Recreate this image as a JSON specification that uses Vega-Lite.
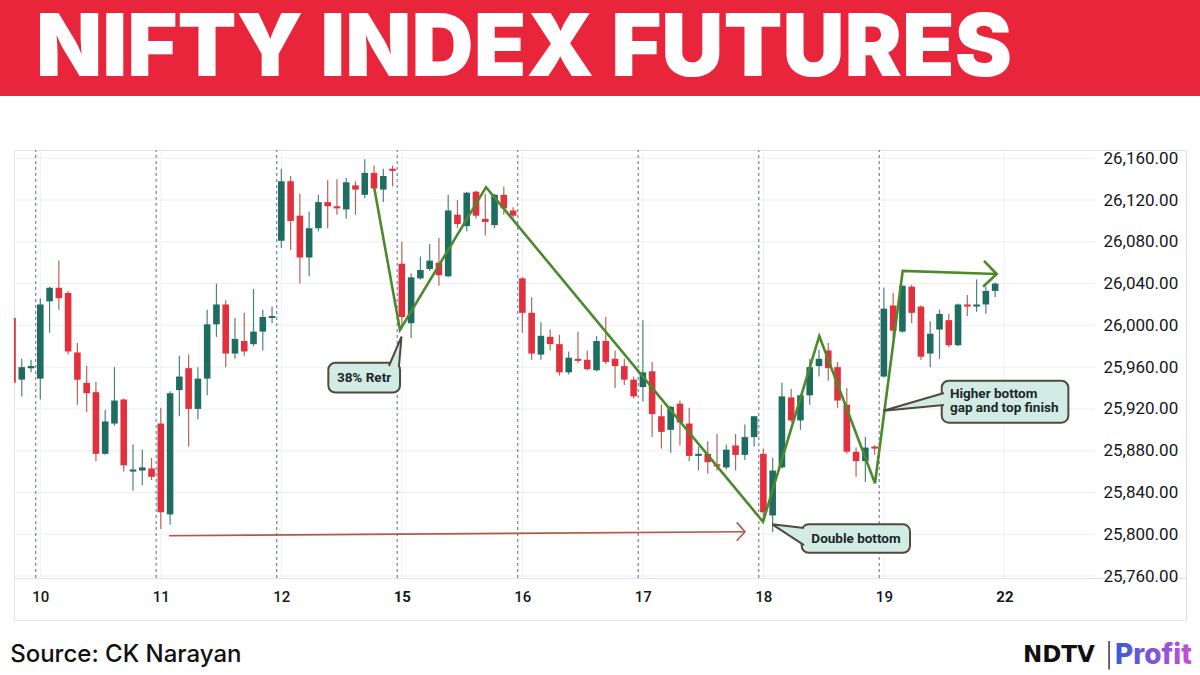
{
  "$schema": "https://vega.github.io/schema/vega-lite/v6.json",
  "background": "white",
  "padding": 0,
  "spacing": 54,
  "center": true,
  "bounds": "flush",
  "datasets": {
    "candles": [
      {"i":0,"o":26007,"h":26010,"l":25942,"c":25945},
      {"i":1,"o":25948,"h":25968,"l":25932,"c":25960},
      {"i":2,"o":25959,"h":25967,"l":25955,"c":25961},
      {"i":3,"o":25949,"h":26026,"l":25929,"c":26020},
      {"i":4,"o":26023,"h":26037,"l":25993,"c":26036},
      {"i":5,"o":26036,"h":26062,"l":26015,"c":26026},
      {"i":6,"o":26031,"h":26033,"l":25972,"c":25975},
      {"i":7,"o":25974,"h":25983,"l":25924,"c":25948},
      {"i":8,"o":25945,"h":25961,"l":25917,"c":25935},
      {"i":9,"o":25936,"h":25946,"l":25870,"c":25877},
      {"i":10,"o":25877,"h":25919,"l":25876,"c":25908},
      {"i":11,"o":25906,"h":25960,"l":25904,"c":25928},
      {"i":12,"o":25929,"h":25930,"l":25860,"c":25866},
      {"i":13,"o":25860,"h":25886,"l":25842,"c":25862},
      {"i":14,"o":25861,"h":25881,"l":25847,"c":25864},
      {"i":15,"o":25863,"h":25873,"l":25852,"c":25855},
      {"i":16,"o":25906,"h":25921,"l":25805,"c":25821},
      {"i":17,"o":25819,"h":25937,"l":25809,"c":25935},
      {"i":18,"o":25938,"h":25971,"l":25913,"c":25951},
      {"i":19,"o":25959,"h":25972,"l":25884,"c":25920},
      {"i":20,"o":25920,"h":25960,"l":25910,"c":25949},
      {"i":21,"o":25949,"h":26015,"l":25933,"c":26001},
      {"i":22,"o":26001,"h":26040,"l":25989,"c":26020},
      {"i":23,"o":26020,"h":26024,"l":25960,"c":25973},
      {"i":24,"o":25973,"h":26007,"l":25968,"c":25987},
      {"i":25,"o":25985,"h":26012,"l":25971,"c":25975},
      {"i":26,"o":25982,"h":26035,"l":25980,"c":25994},
      {"i":27,"o":25994,"h":26015,"l":25976,"c":26008},
      {"i":28,"o":26007,"h":26018,"l":26002,"c":26009},
      {"i":29,"o":26081,"h":26150,"l":26074,"c":26138},
      {"i":30,"o":26138,"h":26143,"l":26072,"c":26100},
      {"i":31,"o":26105,"h":26126,"l":26040,"c":26065},
      {"i":32,"o":26065,"h":26109,"l":26047,"c":26093},
      {"i":33,"o":26093,"h":26125,"l":26090,"c":26118},
      {"i":34,"o":26118,"h":26139,"l":26093,"c":26114},
      {"i":35,"o":26114,"h":26140,"l":26106,"c":26112},
      {"i":36,"o":26111,"h":26141,"l":26102,"c":26137},
      {"i":37,"o":26134,"h":26138,"l":26106,"c":26130},
      {"i":38,"o":26125,"h":26159,"l":26122,"c":26146},
      {"i":39,"o":26146,"h":26153,"l":26130,"c":26131},
      {"i":40,"o":26130,"h":26150,"l":26118,"c":26143},
      {"i":41,"o":26150,"h":26153,"l":26133,"c":26148},
      {"i":42,"o":26059,"h":26080,"l":25997,"c":26008},
      {"i":43,"o":26002,"h":26050,"l":25988,"c":26046},
      {"i":44,"o":26045,"h":26066,"l":26044,"c":26053},
      {"i":45,"o":26054,"h":26078,"l":26052,"c":26062},
      {"i":46,"o":26060,"h":26084,"l":26038,"c":26048},
      {"i":47,"o":26047,"h":26125,"l":26046,"c":26110},
      {"i":48,"o":26106,"h":26120,"l":26093,"c":26097},
      {"i":49,"o":26095,"h":26128,"l":26090,"c":26127},
      {"i":50,"o":26128,"h":26129,"l":26102,"c":26105},
      {"i":51,"o":26102,"h":26126,"l":26086,"c":26099},
      {"i":52,"o":26096,"h":26126,"l":26093,"c":26125},
      {"i":53,"o":26125,"h":26133,"l":26106,"c":26112},
      {"i":54,"o":26110,"h":26113,"l":26103,"c":26105},
      {"i":55,"o":26045,"h":26046,"l":25993,"c":26012},
      {"i":56,"o":26012,"h":26027,"l":25967,"c":25973},
      {"i":57,"o":25972,"h":26003,"l":25967,"c":25990},
      {"i":58,"o":25989,"h":25996,"l":25976,"c":25982},
      {"i":59,"o":25982,"h":25991,"l":25952,"c":25955},
      {"i":60,"o":25955,"h":25975,"l":25953,"c":25969},
      {"i":61,"o":25968,"h":25994,"l":25964,"c":25966},
      {"i":62,"o":25967,"h":25976,"l":25957,"c":25958},
      {"i":63,"o":25957,"h":25990,"l":25956,"c":25985},
      {"i":64,"o":25985,"h":26008,"l":25963,"c":25965},
      {"i":65,"o":25968,"h":25976,"l":25940,"c":25961},
      {"i":66,"o":25961,"h":25968,"l":25943,"c":25948},
      {"i":67,"o":25948,"h":25951,"l":25930,"c":25932},
      {"i":68,"o":25941,"h":26005,"l":25927,"c":25955},
      {"i":69,"o":25956,"h":25965,"l":25893,"c":25915},
      {"i":70,"o":25913,"h":25924,"l":25882,"c":25898},
      {"i":71,"o":25900,"h":25923,"l":25878,"c":25922},
      {"i":72,"o":25925,"h":25928,"l":25885,"c":25907},
      {"i":73,"o":25906,"h":25921,"l":25870,"c":25875},
      {"i":74,"o":25875,"h":25884,"l":25861,"c":25877},
      {"i":75,"o":25877,"h":25889,"l":25858,"c":25869},
      {"i":76,"o":25867,"h":25896,"l":25861,"c":25865},
      {"i":77,"o":25864,"h":25886,"l":25862,"c":25881},
      {"i":78,"o":25885,"h":25896,"l":25861,"c":25876},
      {"i":79,"o":25876,"h":25905,"l":25871,"c":25893},
      {"i":80,"o":25893,"h":25913,"l":25884,"c":25913},
      {"i":81,"o":25877,"h":25882,"l":25815,"c":25821},
      {"i":82,"o":25818,"h":25873,"l":25802,"c":25861},
      {"i":83,"o":25864,"h":25945,"l":25863,"c":25932},
      {"i":84,"o":25931,"h":25939,"l":25907,"c":25909},
      {"i":85,"o":25909,"h":25934,"l":25900,"c":25933},
      {"i":86,"o":25933,"h":25968,"l":25924,"c":25960},
      {"i":87,"o":25961,"h":25977,"l":25951,"c":25968},
      {"i":88,"o":25976,"h":25983,"l":25947,"c":25959},
      {"i":89,"o":25960,"h":25965,"l":25921,"c":25928},
      {"i":90,"o":25924,"h":25940,"l":25877,"c":25879},
      {"i":91,"o":25879,"h":25883,"l":25855,"c":25870},
      {"i":92,"o":25870,"h":25893,"l":25850,"c":25883},
      {"i":93,"o":25884,"h":25885,"l":25876,"c":25882},
      {"i":94,"o":25951,"h":26036,"l":25950,"c":26016},
      {"i":95,"o":26019,"h":26031,"l":25988,"c":25995},
      {"i":96,"o":25994,"h":26038,"l":25993,"c":26038},
      {"i":97,"o":26037,"h":26039,"l":26002,"c":26012},
      {"i":98,"o":26018,"h":26019,"l":25967,"c":25970},
      {"i":99,"o":25973,"h":26004,"l":25960,"c":25992},
      {"i":100,"o":25996,"h":26015,"l":25968,"c":26011},
      {"i":101,"o":26005,"h":26011,"l":25979,"c":25981},
      {"i":102,"o":25981,"h":26021,"l":25980,"c":26020},
      {"i":103,"o":26020,"h":26029,"l":26009,"c":26018},
      {"i":104,"o":26018,"h":26044,"l":26013,"c":26020},
      {"i":105,"o":26020,"h":26037,"l":26011,"c":26033},
      {"i":106,"o":26033,"h":26041,"l":26027,"c":26040}
    ],
    "hgrid": [{"p":25760},{"p":25800},{"p":25840},{"p":25880},{"p":25920},{"p":25960},{"p":26000},{"p":26040},{"p":26080},{"p":26120},{"p":26160}],
    "vgrid": [{"i":3},{"i":16},{"i":29},{"i":42},{"i":55},{"i":68},{"i":81},{"i":94},{"i":107}],
    "sessions": [{"i":2.5},{"i":15.5},{"i":28.5},{"i":41.5},{"i":54.5},{"i":67.5},{"i":80.5},{"i":93.5}],
    "zig": [
      {"o":1,"i":39.03,"p":26131.3},{"o":2,"i":41.8,"p":25995.6},{"o":3,"i":51.08,"p":26132.3},
      {"o":4,"i":80.96,"p":25812.0},{"o":5,"i":87.03,"p":25989.8},{"o":6,"i":93.04,"p":25848.8},
      {"o":7,"i":96.03,"p":26052.1},{"o":8,"i":106.17,"p":26049.2}
    ],
    "zigHead": [{"o":1,"i":104.8,"p":26061.7},{"o":2,"i":106.17,"p":26049.2},{"o":3,"i":104.7,"p":26037.0}],
    "brown": [{"o":1,"i":16.88,"p":25798.6},{"o":2,"i":79.02,"p":25802.4}],
    "brownHead": [{"o":1,"i":78.12,"p":25811.4},{"o":2,"i":79.02,"p":25802.4},{"o":3,"i":78.12,"p":25793.8}],
    "boxes": [
      {"g":1,"i1":34.07,"i2":41.8,"p1":25964.3,"p2":25935.6},
      {"g":2,"i1":85.13,"i2":96.82,"p1":25809.5,"p2":25782.3},
      {"g":3,"i1":100.24,"i2":113.9,"p1":25947.0,"p2":25906.8}
    ],
    "pointers": [
      {"g":1,"o":1,"i":40.61,"p":25961.1},{"g":1,"o":2,"i":41.96,"p":25989.2},{"g":1,"o":3,"i":41.69,"p":25961.1},
      {"g":2,"o":1,"i":85.38,"p":25805.9},{"g":2,"o":2,"i":81.96,"p":25809.5},{"g":2,"o":3,"i":85.38,"p":25789.6},
      {"g":3,"o":1,"i":100.48,"p":25935.3},{"g":3,"o":2,"i":93.94,"p":25918.3},{"g":3,"o":3,"i":100.48,"p":25923.8}
    ],
    "centerLabels": [
      {"i":37.92,"p":25949.9,"t":"38% Retr"},
      {"i":90.99,"p":25795.9,"t":"Double bottom"}
    ],
    "leftLabels": [
      {"i":101.13,"p":25934.3,"t":"Higher bottom"},
      {"i":101.13,"p":25921.2,"t":"gap and top finish"}
    ]
  },
  "vconcat": [
    {
      "width": 1200,
      "height": 96,
      "view": {"fill": "#e8253b", "stroke": null},
      "data": {"values": [{"t": "NIFTY INDEX FUTURES"}]},
      "mark": {"type": "text", "font": "Inter", "fontWeight": 900, "fontSize": 86, "letterSpacing": 1.6, "color": "#ffffff", "align": "center", "baseline": "middle", "dx": -76, "dy": 2},
      "encoding": {"text": {"field": "t"}}
    },
    {
      "width": 1172,
      "height": 470,
      "view": {"stroke": "#dfe2ea", "strokeWidth": 1},
      "resolve": {"axis": {"x": "independent", "y": "independent"}},
      "layer": [
        {
          "data": {"name": "hgrid"},
          "mark": {"type": "rule", "color": "#eceef3", "strokeWidth": 1},
          "encoding": {
            "y": {
              "field": "p", "type": "quantitative",
              "scale": {"domain": [25717.9, 26167.9], "nice": false, "zero": false, "padding": 0},
              "axis": {
                "orient": "right", "offset": -91, "title": null,
                "values": [25760, 25800, 25840, 25880, 25920, 25960, 26000, 26040, 26080, 26120, 26160],
                "format": ",.2f", "grid": false, "ticks": false, "domain": false,
                "labelFont": "Roboto", "labelFontSize": 17, "labelColor": "#131722",
                "labelPadding": 8, "labelOverlap": false
              }
            },
            "x": {
              "datum": 0.162, "type": "quantitative",
              "scale": {"domain": [0.162, 126.59], "nice": false, "zero": false, "padding": 0},
              "axis": {
                "orient": "bottom", "offset": -42, "title": null,
                "values": [3, 16, 29, 42, 55, 68, 81, 94, 107],
                "labelExpr": "datum.value==3?'10':datum.value==16?'11':datum.value==29?'12':datum.value==42?'15':datum.value==55?'16':datum.value==68?'17':datum.value==81?'18':datum.value==94?'19':'22'",
                "grid": false, "ticks": false, "domain": true, "domainColor": "#e0e3eb",
                "labelFont": "Roboto", "labelFontSize": 15, "labelColor": "#131722",
                "labelFontWeight": {"condition": {"test": "datum.value==42 || datum.value==107", "value": 700}, "value": 500},
                "labelPadding": 11, "labelFlush": false, "labelOverlap": false
              }
            },
            "x2": {"datum": 116.77}
          }
        },
        {
          "data": {"name": "vgrid"},
          "mark": {"type": "rule", "color": "#eef0f4", "strokeWidth": 1},
          "encoding": {
            "x": {"field": "i", "type": "quantitative", "axis": null},
            "y": {"datum": 25758, "type": "quantitative", "axis": null},
            "y2": {"datum": 26167.9}
          }
        },
        {
          "data": {"name": "sessions"},
          "mark": {"type": "rule", "color": "#8088ad", "strokeWidth": 1.3, "strokeDash": [3, 3]},
          "encoding": {
            "x": {"field": "i", "type": "quantitative", "axis": null},
            "y": {"datum": 25758, "type": "quantitative", "axis": null},
            "y2": {"datum": 26167.9}
          }
        },
        {
          "data": {"name": "brown"},
          "mark": {"type": "line", "color": "#b05a45", "strokeWidth": 1.6},
          "encoding": {
            "x": {"field": "i", "type": "quantitative", "axis": null},
            "y": {"field": "p", "type": "quantitative", "axis": null},
            "order": {"field": "o"}
          }
        },
        {
          "data": {"name": "brownHead"},
          "mark": {"type": "line", "color": "#b05a45", "strokeWidth": 1.6},
          "encoding": {
            "x": {"field": "i", "type": "quantitative", "axis": null},
            "y": {"field": "p", "type": "quantitative", "axis": null},
            "order": {"field": "o"}
          }
        },
        {
          "data": {"name": "candles"},
          "mark": {"type": "rule", "strokeWidth": 1.2, "clip": true},
          "encoding": {
            "x": {"field": "i", "type": "quantitative", "axis": null},
            "y": {"field": "l", "type": "quantitative", "axis": null},
            "y2": {"field": "h"},
            "color": {"condition": {"test": "datum.c >= datum.o", "value": "#4a857a"}, "value": "#b3655b"}
          }
        },
        {
          "data": {"name": "candles"},
          "mark": {"type": "bar", "orient": "vertical", "size": 6.6, "clip": true},
          "encoding": {
            "x": {"field": "i", "type": "quantitative", "axis": null},
            "y": {"field": "o", "type": "quantitative", "axis": null},
            "y2": {"field": "c"},
            "color": {"condition": {"test": "datum.c >= datum.o", "value": "#1f6c60"}, "value": "#e2313c"}
          }
        },
        {
          "data": {"name": "zig"},
          "mark": {"type": "line", "color": "#4b8a2c", "strokeWidth": 2.6, "strokeJoin": "miter"},
          "encoding": {
            "x": {"field": "i", "type": "quantitative", "axis": null},
            "y": {"field": "p", "type": "quantitative", "axis": null},
            "order": {"field": "o"}
          }
        },
        {
          "data": {"name": "zigHead"},
          "mark": {"type": "line", "color": "#4b8a2c", "strokeWidth": 2.6},
          "encoding": {
            "x": {"field": "i", "type": "quantitative", "axis": null},
            "y": {"field": "p", "type": "quantitative", "axis": null},
            "order": {"field": "o"}
          }
        },
        {
          "data": {"name": "boxes"},
          "mark": {"type": "rect", "fill": "#d3ebe5", "stroke": "#4f4a3d", "strokeWidth": 2, "cornerRadius": 7},
          "encoding": {
            "x": {"field": "i1", "type": "quantitative", "axis": null},
            "x2": {"field": "i2"},
            "y": {"field": "p1", "type": "quantitative", "axis": null},
            "y2": {"field": "p2"}
          }
        },
        {
          "data": {"name": "pointers"},
          "mark": {"type": "line", "fill": "#d3ebe5", "stroke": "#4f4a3d", "strokeWidth": 2, "strokeJoin": "miter"},
          "encoding": {
            "x": {"field": "i", "type": "quantitative", "axis": null},
            "y": {"field": "p", "type": "quantitative", "axis": null},
            "detail": {"field": "g"},
            "order": {"field": "o"}
          }
        },
        {
          "data": {"name": "centerLabels"},
          "mark": {"type": "text", "font": "Roboto", "fontWeight": 700, "fontSize": 13.5, "color": "#1b2828", "align": "center", "baseline": "middle"},
          "encoding": {
            "x": {"field": "i", "type": "quantitative", "axis": null},
            "y": {"field": "p", "type": "quantitative", "axis": null},
            "text": {"field": "t"}
          }
        },
        {
          "data": {"name": "leftLabels"},
          "mark": {"type": "text", "font": "Roboto", "fontWeight": 700, "fontSize": 13.5, "color": "#1b2828", "align": "left", "baseline": "middle"},
          "encoding": {
            "x": {"field": "i", "type": "quantitative", "axis": null},
            "y": {"field": "p", "type": "quantitative", "axis": null},
            "text": {"field": "t"}
          }
        },
        {
          "data": {"values": [{"t": "Source: CK Narayan"}]},
          "mark": {"type": "text", "font": "Inter", "fontWeight": 500, "fontSize": 24, "color": "#111111", "align": "left", "baseline": "middle"},
          "encoding": {
            "x": {"datum": -0.25, "type": "quantitative", "axis": null},
            "y": {"datum": 25684.4, "type": "quantitative", "axis": null},
            "text": {"field": "t"}
          }
        },
        {
          "data": {"values": [{"t": "NDTV"}]},
          "mark": {"type": "text", "font": "DejaVu Sans", "fontWeight": 700, "fontSize": 23, "color": "#111111", "align": "left", "baseline": "middle"},
          "encoding": {
            "x": {"datum": 109.01, "type": "quantitative", "axis": null},
            "y": {"datum": 25684.4, "type": "quantitative", "axis": null},
            "text": {"field": "t"}
          }
        },
        {
          "data": {"values": [{"t": "|"}]},
          "mark": {"type": "text", "font": "DejaVu Sans", "fontWeight": 300, "fontSize": 28, "color": "#222222", "align": "center", "baseline": "middle"},
          "encoding": {
            "x": {"datum": 118.28, "type": "quantitative", "axis": null},
            "y": {"datum": 25684.0, "type": "quantitative", "axis": null},
            "text": {"field": "t"}
          }
        },
        {
          "data": {"values": [{"t": "Profit"}]},
          "mark": {
            "type": "text", "font": "Inter", "fontWeight": 800, "fontSize": 28, "align": "left", "baseline": "middle",
            "fill": {"gradient": "linear", "x1": 0, "x2": 1, "y1": 0, "y2": 0, "stops": [{"offset": 0, "color": "#3a5bd9"}, {"offset": 1, "color": "#c64fd6"}]}
          },
          "encoding": {
            "x": {"datum": 118.93, "type": "quantitative", "axis": null},
            "y": {"datum": 25683.4, "type": "quantitative", "axis": null},
            "text": {"field": "t"}
          }
        }
      ]
    }
  ]
}
